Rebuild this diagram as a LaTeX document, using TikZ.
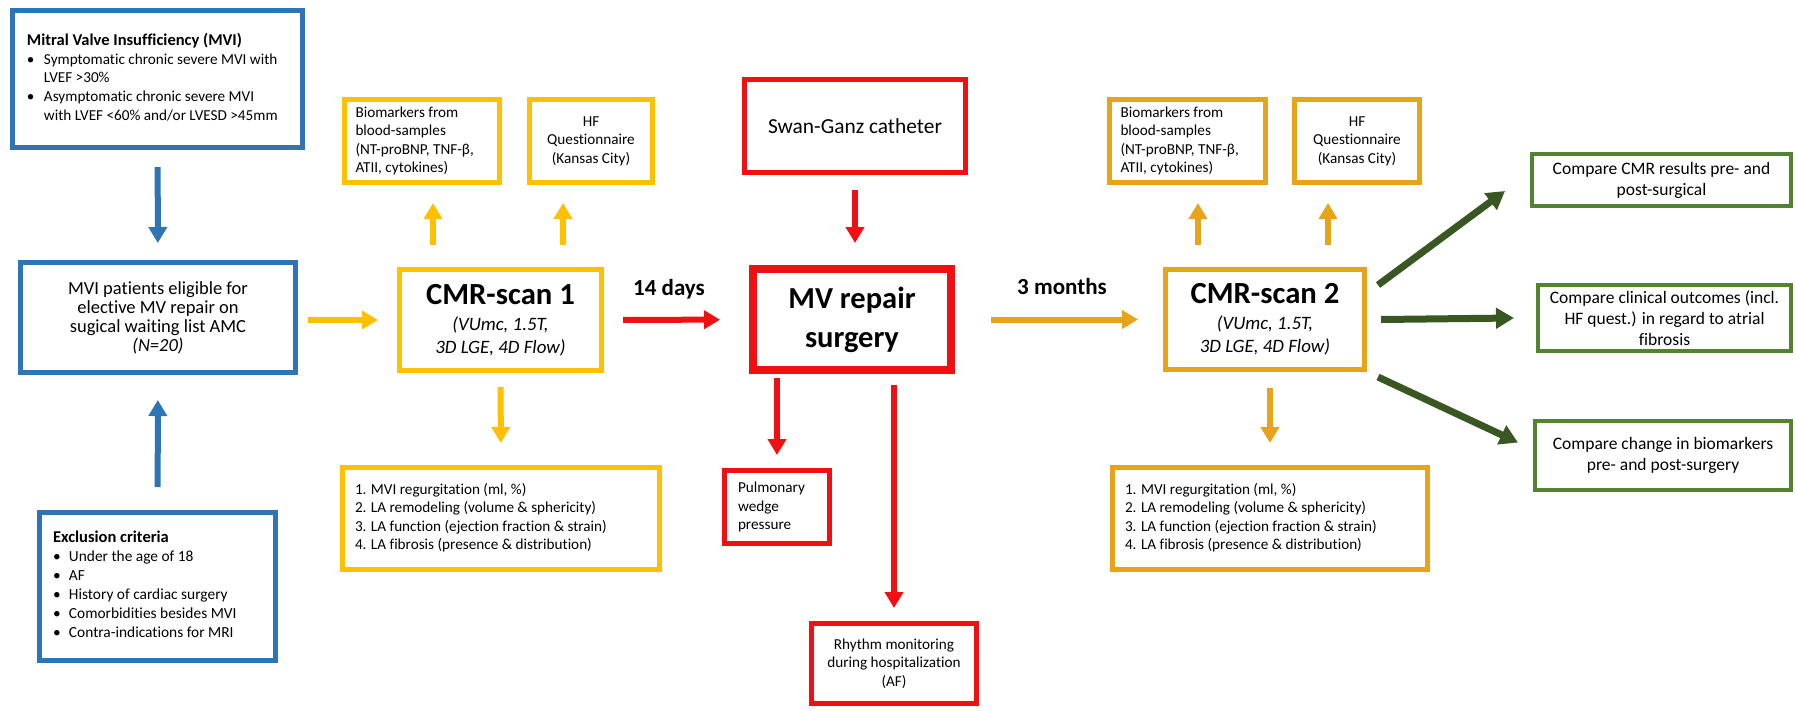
\documentclass[tikz,border=0pt]{standalone}
\usepackage{fontspec}
\setmainfont{Carlito}[Ligatures=NoCommon]
\usetikzlibrary{arrows.meta}

\definecolor{mviblue}{RGB}{46,117,182}
\definecolor{scanyellow}{RGB}{255,192,0}
\definecolor{scanorange}{RGB}{232,163,25}
\definecolor{surgred}{RGB}{240,16,20}
\definecolor{outgreen}{RGB}{84,130,53}
\definecolor{arrgreen}{RGB}{56,87,35}
\newcommand{\fsz}[2]{\fontsize{#1}{#2}\selectfont}

\begin{document}
\begin{tikzpicture}[x=1pt,y=-1pt,
    box/.style={draw=#1,line width=5pt,inner sep=0pt},
    txt/.style={font=\fsz{15.2}{18.5}},
    arr/.style={draw=#1,line width=6pt,-{Triangle[width=18pt,length=16pt]}},
    garr/.style={draw=arrgreen,line width=7pt,-{Triangle[width=20pt,length=18pt]}}]
\useasboundingbox (0,0) rectangle (1795,710);

% patients
\node[box=mviblue,txt,minimum width=290,minimum height=137] (mvi) at (157.5,79) {\fsz{15.2}{18.75}%
  \begin{tabular}{@{}p{17pt}@{}p{244pt}@{}}
  \multicolumn{2}{@{}l@{}}{\bfseries\fsz{16.5}{18.75}Mitral Valve Insufficiency (MVI)}\\
  \textbullet & Symptomatic chronic severe MVI with\\
   & LVEF >30\%\\
  \textbullet & Asymptomatic chronic severe MVI\\
   & with LVEF <60\% and/or LVESD >45mm
  \end{tabular}};
\node[box=mviblue,minimum width=275,minimum height=110,align=center,font=\fsz{18.5}{19}] (pat) at (158,317.5)
  {MVI patients eligible for\\elective MV repair on\\sugical waiting list AMC\\\textit{(N=20)}};
\node[box=mviblue,minimum width=236,minimum height=148] (excl) at (157.5,586.5) {\fsz{15.4}{19}%
  \begin{tabular}{@{}p{16pt}@{}p{193pt}@{}}
  \multicolumn{2}{@{}l@{}}{\bfseries\fsz{16.5}{19}Exclusion criteria}\\
  \textbullet & Under the age of 18\\
  \textbullet & AF\\
  \textbullet & History of cardiac surgery\\
  \textbullet & Comorbidities besides MVI\\
  \textbullet & Contra-indications for MRI
  \end{tabular}};

% first scan
\node[box=scanyellow,txt,text width=133,inner xsep=11,minimum height=83,align=flush left] (bio1) at (422,141)
  {Biomarkers from\\blood-samples\\(NT-proBNP, TNF-β,\\ATII, cytokines)};
\node[box=scanyellow,txt,minimum width=123,minimum height=83,align=center] (hf1) at (591,141)
  {HF\\Questionnaire\\(Kansas City)};
\node[box=scanyellow,minimum width=202,minimum height=101,align=center,font=\fsz{18.9}{23}] (cmr1) at (500.5,320)
  {{\bfseries\fsz{30.7}{30.7}CMR-scan 1}\\[3pt]\textit{(VUmc, 1.5T,}\\\textit{3D LGE, 4D Flow)}};
\node[box=scanyellow,minimum width=317,minimum height=102] (res1) at (501,518.5) {\fsz{15.2}{18.5}%
  \begin{tabular}{@{}p{16pt}@{}p{276pt}@{}}
  1. & MVI regurgitation (ml, \%)\\
  2. & LA remodeling (volume \& sphericity)\\
  3. & LA function (ejection fraction \& strain)\\
  4. & LA fibrosis (presence \& distribution)
  \end{tabular}};

% surgery
\node[box=surgred,minimum width=221,minimum height=93,font=\fsz{21.4}{24}] (swan) at (855,126) {Swan-Ganz catheter};
\node[box=surgred,line width=8pt,minimum width=198,minimum height=101,align=center,font=\bfseries\fsz{30.5}{39}] (mvr) at (852,319.5)
  {MV repair\\surgery};
\node[box=surgred,txt,text width=78,inner xsep=13.5,minimum height=73,align=flush left] (pwp) at (777,507)
  {Pulmonary\\wedge\\pressure};
\node[box=surgred,txt,minimum width=165,minimum height=80,align=center] (rhy) at (894,663.5)
  {Rhythm monitoring\\during hospitalization\\(AF)};

% second scan
\node[box=scanorange,txt,text width=134,inner xsep=11,minimum height=83,align=flush left] (bio2) at (1187.5,141)
  {Biomarkers from\\blood-samples\\(NT-proBNP, TNF-β,\\ATII, cytokines)};
\node[box=scanorange,txt,minimum width=125,minimum height=83,align=center] (hf2) at (1357,141)
  {HF\\Questionnaire\\(Kansas City)};
\node[box=scanorange,minimum width=199,minimum height=100,align=center,font=\fsz{18.9}{23}] (cmr2) at (1265,319.5)
  {{\bfseries\fsz{30.7}{30.7}CMR-scan 2}\\[3pt]\textit{(VUmc, 1.5T,}\\\textit{3D LGE, 4D Flow)}};
\node[box=scanorange,minimum width=315,minimum height=102] (res2) at (1270,518.5) {\fsz{15.2}{18.5}%
  \begin{tabular}{@{}p{16pt}@{}p{274pt}@{}}
  1. & MVI regurgitation (ml, \%)\\
  2. & LA remodeling (volume \& sphericity)\\
  3. & LA function (ejection fraction \& strain)\\
  4. & LA fibrosis (presence \& distribution)
  \end{tabular}};

% outcomes
\node[box=outgreen,line width=4pt,minimum width=259,minimum height=52,align=center,font=\fsz{17.5}{21}] (g1) at (1661.5,180)
  {Compare CMR results pre- and\\post-surgical};
\node[box=outgreen,line width=4pt,minimum width=253,minimum height=66,align=center,font=\fsz{17.5}{21}] (g2) at (1664.5,318)
  {Compare clinical outcomes (incl.\\HF quest.) in regard to atrial\\fibrosis};
\node[box=outgreen,line width=4pt,minimum width=256,minimum height=69,align=center,font=\fsz{17.5}{21}] (g3) at (1663,455.5)
  {Compare change in biomarkers\\pre- and post-surgery};

% intervals
\node[font=\bfseries\fsz{23}{23}] (d14) at (669,289) {14 days};
\node[font=\bfseries\fsz{23}{23}] (m3) at (1062,287) {3 months};

% arrows
\draw[arr=mviblue,shorten <=17pt,shorten >=17pt] (mvi) -- (pat);
\draw[arr=mviblue,shorten <=23pt,shorten >=25pt] (excl) -- (pat);
\draw[arr=scanyellow,shorten <=10pt,shorten >=19pt] (pat.east |- cmr1) -- (cmr1);
\draw[arr=scanyellow,shorten <=22pt,shorten >=18pt] ([xshift=-67.5]cmr1.north) -- ([xshift=11]bio1.south);
\draw[arr=scanyellow,shorten <=22pt,shorten >=18pt] ([xshift=62.5]cmr1.north) -- ([xshift=-28]hf1.south);
\draw[arr=scanyellow,shorten <=14pt,shorten >=22pt] (cmr1) -- (res1);
\draw[arr=surgred,shorten <=19pt,shorten >=29pt] (cmr1) -- (mvr);
\draw[arr=surgred,shorten <=15pt,shorten >=22pt] (swan) -- (swan |- mvr.north);
\draw[arr=surgred,shorten <=4pt,shorten >=13pt] (mvr.south -| pwp) -- (pwp);
\draw[arr=surgred,shorten <=11pt,shorten >=13pt] (mvr.south -| rhy) -- (rhy);
\draw[arr=scanorange,shorten <=36pt,shorten >=25pt] (mvr) -- (cmr2);
\draw[arr=scanorange,shorten <=22pt,shorten >=18pt] ([xshift=-67]cmr2.north) -- ([xshift=10.5]bio2.south);
\draw[arr=scanorange,shorten <=22pt,shorten >=18pt] ([xshift=63]cmr2.north) -- ([xshift=-29]hf2.south);
\draw[arr=scanorange,shorten <=16pt,shorten >=22pt] (res2 |- cmr2.south) -- (res2);
\draw[garr] ([shift={(11,-34.5)}]cmr2.east) -- ([shift={(-25,11)}]g1.west);
\draw[garr] ([xshift=14]cmr2.east) -- ([xshift=-22]g2.west);
\draw[garr] ([shift={(11,57.5)}]cmr2.east) -- ([shift={(-15,-13)}]g3.west);
\end{tikzpicture}
\end{document}
